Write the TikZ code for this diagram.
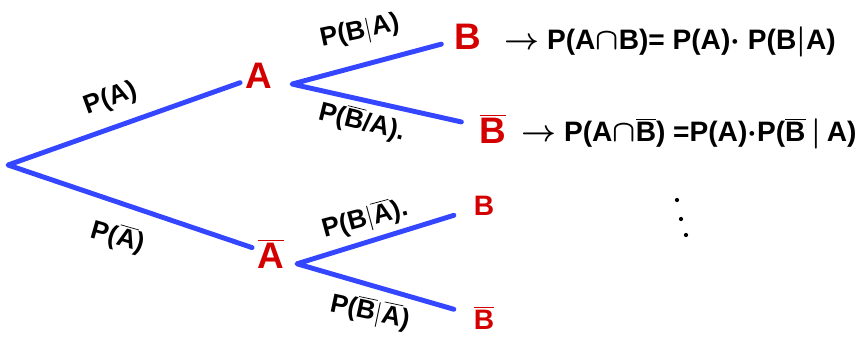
\documentclass[tikz,border=0pt]{standalone}
\usepackage{fontspec}
\setmainfont{Liberation Sans}
\usetikzlibrary{positioning}

\definecolor{treeblue}{RGB}{52,70,255}
\definecolor{eventred}{RGB}{212,0,0}
\newcommand{\nt}[1]{$\overline{\mbox{#1}}$}

\begin{document}
\begin{tikzpicture}[
    x=0.02cm, y=-0.02cm,
    every node/.style={font=\bfseries\fontsize{15}{17}\selectfont},
    branch/.style={line width=2.8pt,line cap=round,line join=round,draw=treeblue},
    event/.style={text=eventred,inner sep=3pt,font=\bfseries\fontsize{21}{23}\selectfont},
    smallevent/.style={event,font=\bfseries\fontsize{16}{18}\selectfont},
    prob/.style={inner sep=1pt},
    eqn/.style={anchor=west,inner sep=0pt,font=\bfseries\boldmath\fontsize{16}{18}\selectfont}
]
\useasboundingbox (0,0) rectangle (859,339);

% Root and first level
\coordinate (R) at (8,165);
\node[event] (A) at (259,76) {A};
\node[event] (Abar) at (271,254) {\nt{A}};
\draw[branch] (A) -- (R) -- (Abar);

% Second level
\node[event] (B1) at (468,37) {B};
\node[event] (B1bar) at (493,129) {\nt{B}};
\node[smallevent] (B2) at (484,206) {B};
\node[smallevent] (B2bar) at (484,318) {\nt{B}};
\draw[branch,shorten <=0.16cm,shorten >=0.26cm] (B1) -- ([xshift=8pt]A.mid east) -- (B1bar);
\draw[branch,shorten <=0.3cm,shorten >=0.3cm] (B2) -- ([xshift=4pt]Abar.mid east) -- (B2bar);

% Branch probabilities
\node[prob,rotate=20] (pA) at (111,99) {P(A)};
\node[prob,rotate=-16] (pAbar) at (118,237) {P(\nt{A})};
\node[prob,rotate=12] (pB1) at (360,32) {P(B$|$A)};
\node[prob,rotate=-14] (pB1bar) at (362,122) {P(\nt{B}/A).};
\node[prob,rotate=15] (pB2) at (365,219) {P(B$|$\nt{A}).};
\node[prob,rotate=-12] (pB2bar) at (370,312) {P(\nt{B}$|$\nt{A})};

% Products
\node[eqn] (E1) at (504,42) {$\rightarrow$ P(A$\cap$B)= P(A)$\cdot$ P(B$|$A)};
\node[eqn] (E2) at (521,134) {$\rightarrow$ P(A$\cap$\nt{B}) =P(A)$\cdot$P(\nt{B}$\,|\,$A)};

% continued
\foreach \p in {(677,200),(681,219),(686,235)}
    \fill \p circle (1.2pt);

\end{tikzpicture}
\end{document}
